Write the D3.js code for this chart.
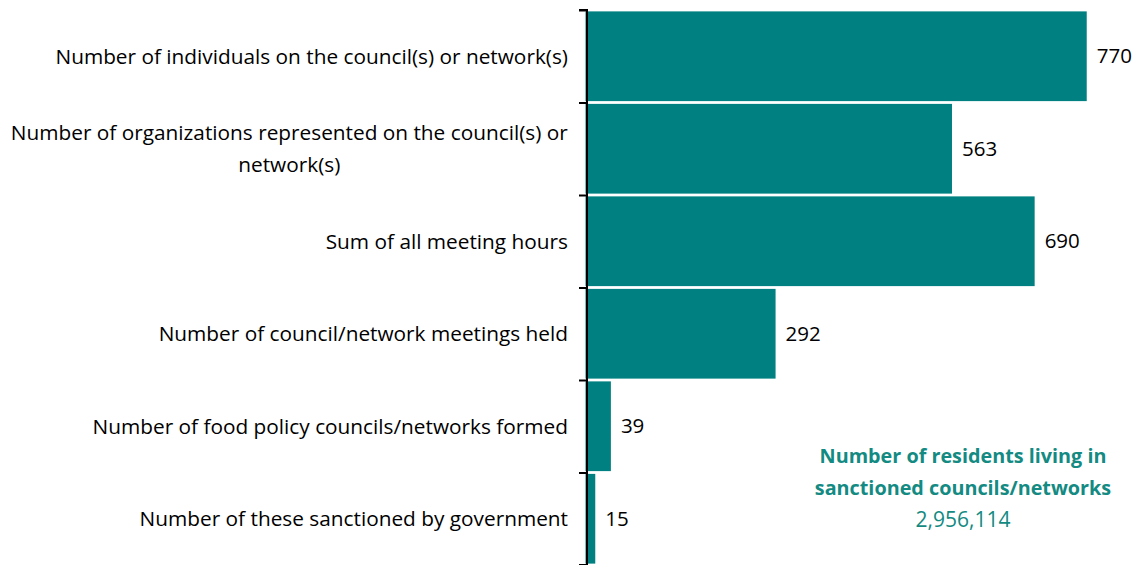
<!DOCTYPE html>
<html><head><meta charset="utf-8">
<script src="https://cdn.jsdelivr.net/npm/d3@7"></script>
<style>
body{margin:0;background:#fff;}
svg{display:block;}
text{font-family:"Open Sans",sans-serif;}
</style></head>
<body>
<svg id="chart" width="1138" height="565"></svg>
<script>
const categories = [
  ["Number of individuals on the council(s) or network(s)"],
  ["Number of organizations represented on the council(s) or", "network(s)"],
  ["Sum of all meeting hours"],
  ["Number of council/network meetings held"],
  ["Number of food policy councils/networks formed"],
  ["Number of these sanctioned by government"]
];
const values = [770, 563, 690, 292, 39, 15];
const annotationTitle = ["Number of residents living in", "sanctioned councils/networks"];
const annotationValue = "2,956,114";

const svg = d3.select("#chart");
const teal = "#008080";
const fs = 20.8;

const x = d3.scaleLinear().domain([0, 850]).range([585.5, 1138.8]);
const idx = categories.map((d, i) => i);
const y = d3.scaleBand().domain(idx).range([10, 565]).paddingInner(0.03).paddingOuter(0.015);
const yb = d3.scaleLinear().domain([0, categories.length]).range([10, 565]);

// bars
svg.append("g").selectAll("rect").data(values).join("rect")
  .attr("x", x(0)).attr("y", (d, i) => y(i))
  .attr("width", d => x(d) - x(0)).attr("height", y.bandwidth())
  .attr("fill", teal);

// axis
const ax = svg.append("g").attr("transform", "translate(587,0)")
  .call(d3.axisLeft(yb).tickValues(d3.range(categories.length + 1)).tickSize(8).tickFormat(""));
ax.select(".domain").attr("stroke", "#000").attr("stroke-width", 2).attr("d", `M-8,${yb(0)}H0V${yb(categories.length)}H-8`);
ax.selectAll(".tick line").attr("stroke", "#000").attr("stroke-width", 2);

// category labels
const lh = 32;
const labelRight = 568;
categories.forEach((lines, i) => {
  const cy = y(i) + y.bandwidth() / 2;
  const g = svg.append("g");
  const t = g.append("text").attr("font-size", fs).attr("fill", "#000").attr("text-anchor", "middle");
  lines.forEach((ln, j) => {
    t.append("tspan").attr("x", 0)
      .attr("y", cy + (j - (lines.length - 1) / 2) * lh)
      .attr("dy", "0.35em").text(ln);
  });
  const w = t.node().getBBox().width;
  t.selectAll("tspan").attr("x", labelRight - w / 2);
});

// value labels
svg.append("g").selectAll("text").data(values).join("text")
  .attr("x", d => x(d) + 10).attr("y", (d, i) => y(i) + y.bandwidth() / 2)
  .attr("dy", "0.35em").attr("font-size", 20.5).attr("fill", "#000")
  .text(d => d3.format(",")(d));

// annotation
const ann = svg.append("text").attr("text-anchor", "middle").attr("fill", "#138a82");
annotationTitle.forEach((ln, j) => {
  ann.append("tspan").attr("x", 963).attr("y", 463 + j * 32).attr("font-size", 19.8).attr("font-weight", "bold").text(ln);
});
ann.append("tspan").attr("x", 963).attr("y", 527).attr("font-size", 21).text(annotationValue);
</script>
</body></html>
